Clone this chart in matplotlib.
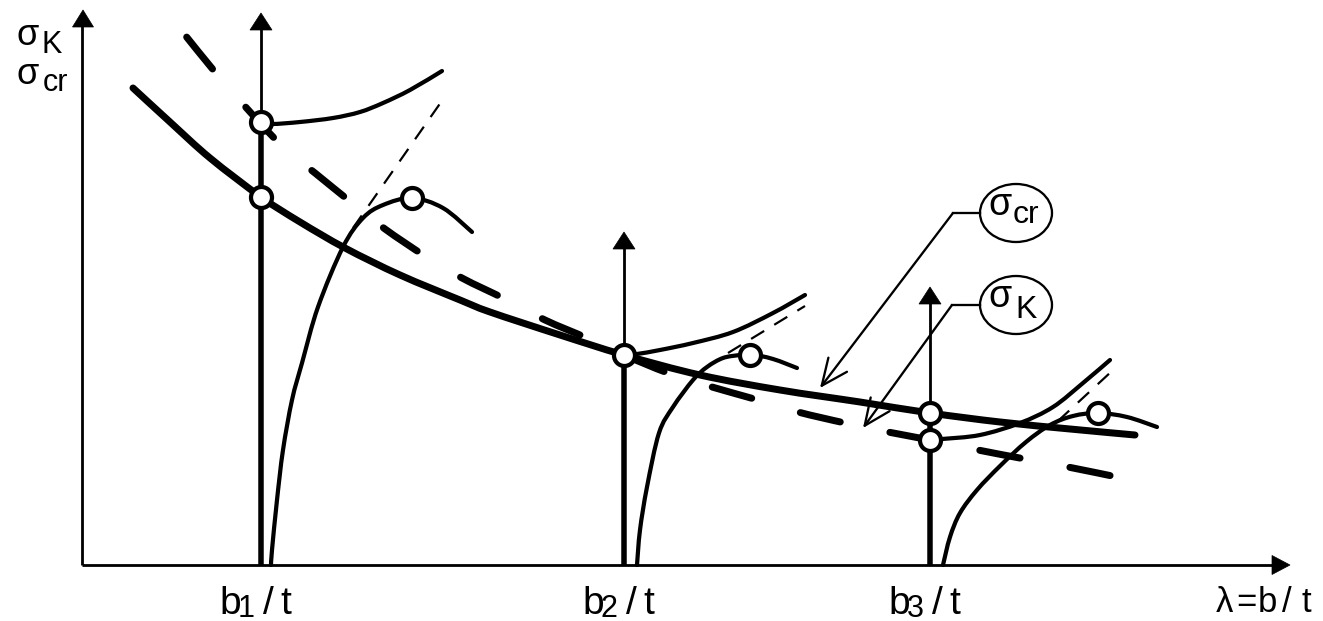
import matplotlib
matplotlib.use("Agg")
import numpy as np
import matplotlib.pyplot as plt
from matplotlib.patches import Ellipse, FancyArrowPatch, Polygon, PathPatch
from matplotlib.path import Path

plt.rcParams['font.family'] = ['Liberation Sans', 'DejaVu Sans']
plt.rcParams['lines.scale_dashes'] = False

PX = 0.72  # points per pixel at 100 dpi

# ---- diagram geometry (pixel space, y grows downward) ----
origin = (82, 565)
y_axis_top = 10
x_axis_end = 1290

# plate widths b_i/t on the abscissa
b_x = [261, 624, 930]
b_top = [13, 232, 287]
b_split = [122, 355, 413]
b_labels = ["1", "2", "3"]

# critical stress curve sigma_cr
sigma_cr_x = [133, 170, 210, 261, 300, 345, 400, 460, 490, 560, 624, 700, 780, 860, 930, 1000, 1070, 1135]
sigma_cr_y = [88, 122, 158, 197, 222, 248, 275, 300, 312, 335, 355, 375, 390, 402, 413, 422, 429, 435]

# buckling stress curve sigma_K
sigma_k_x = [185, 215, 242, 283, 315, 352, 385, 425, 462, 505, 545, 587, 624, 668, 712, 758, 798, 845, 888, 930, 978, 1025, 1068, 1117]
sigma_k_y = [35, 72, 103, 147, 173, 203, 229, 256, 278, 299, 320, 338, 355, 373, 387, 400, 412, 423, 432, 440, 450, 459, 467, 477]

# branches at b1/t
b1_post_x = [261, 272, 300, 333, 360, 383, 410, 442]
b1_post_y = [122, 124, 122, 118, 112, 103, 90, 71]
b1_rise_x = [271, 272, 277, 283, 292, 302, 318, 343, 363, 383, 412, 443, 472]
b1_rise_y = [565, 550, 500, 450, 400, 363, 307, 247, 218, 205, 198, 208, 232]
b1_tan_x = [353, 446]
b1_tan_y = [228, 95]

# branches at b2/t
b2_post_x = [624, 637, 660, 693, 733, 773, 805]
b2_post_y = [355, 354, 350, 343, 332, 313, 295]
b2_rise_x = [637, 640, 647, 659, 673, 693, 707, 723, 740, 750, 773, 797]
b2_rise_y = [565, 530, 487, 433, 407, 380, 367, 358, 355, 354, 359, 368]
b2_tan_x = [728, 805]
b2_tan_y = [353, 306]

# branches at b3/t
b3_post_x = [930, 942, 980, 1020, 1053, 1083, 1110]
b3_post_y = [440, 439, 435, 423, 407, 383, 360]
b3_rise_x = [943, 950, 960, 977, 1000, 1026, 1050, 1073, 1098, 1127, 1157]
b3_rise_y = [565, 537, 513, 490, 466, 442, 425, 416, 413, 417, 427]
b3_tan_x = [1058, 1112]
b3_tan_y = [421, 371]

# marked points
pts_x = [261, 261, 412, 624, 750, 930, 930, 1098]
pts_y = [122, 197, 198, 355, 355, 413, 440, 413]

# callouts: label subscript, ellipse centre, leader bend, arrow tip
call_sub = ["cr", "K"]
call_cx = [1016, 1016]
call_cy = [213, 305]
call_bend_x = [953, 952]
call_tip_x = [820, 863]
call_tip_y = [388, 428]

fig = plt.figure(figsize=(13.23, 6.21), dpi=100)
ax = fig.add_axes([0, 0, 1, 1])
ax.set_xlim(0, 1323)
ax.set_ylim(621, 0)
ax.axis('off')


def smooth_path(xs, ys):
    """Cubic Bezier path passing through every given point (Catmull-Rom tangents)."""
    p = np.column_stack([xs, ys]).astype(float)
    verts = [p[0]]
    codes = [Path.MOVETO]
    n = len(p)
    for i in range(n - 1):
        p0 = p[i - 1] if i > 0 else p[i]
        p1, p2 = p[i], p[i + 1]
        p3 = p[i + 2] if i + 2 < n else p[i + 1]
        verts += [p1 + (p2 - p0) / 6.0, p2 - (p3 - p1) / 6.0, p2]
        codes += [Path.CURVE4] * 3
    return Path(verts, codes)


def curve(xs, ys, lw, ls='solid', z=4):
    patch = PathPatch(smooth_path(xs, ys), fill=False, ec='black', lw=lw, linestyle=ls,
                      capstyle='round', joinstyle='round', zorder=z)
    ax.add_patch(patch)
    return patch


def arrow_head(tip, direction, length, half_w):
    tx, ty = tip
    if direction == 'up':
        pts = [(tx, ty), (tx - half_w, ty + length), (tx + half_w, ty + length)]
    else:
        pts = [(tx, ty), (tx - length, ty - half_w), (tx - length, ty + half_w)]
    ax.add_patch(Polygon(pts, closed=True, fc='black', ec='black', lw=0.5, zorder=6))


# coordinate axes
ax.plot([origin[0], origin[0]], [origin[1], y_axis_top + 15], color='black', lw=2.8 * PX, solid_capstyle='butt')
arrow_head((origin[0] + 1, y_axis_top), 'up', 17, 10.5)
ax.plot([origin[0], x_axis_end - 15], [origin[1], origin[1]], color='black', lw=2.8 * PX, solid_capstyle='butt')
arrow_head((x_axis_end, origin[1]), 'right', 18, 9.5)

# verticals at b_i/t
for bx, bt, bs in zip(b_x, b_top, b_split):
    ax.plot([bx, bx], [bs, bt + 15], color='black', lw=2.8 * PX, solid_capstyle='butt', zorder=3)
    arrow_head((bx, bt), 'up', 17, 11)
    ax.plot([bx, bx], [origin[1], bs], color='black', lw=5.5 * PX, solid_capstyle='butt', zorder=3)

# main curves: sigma_cr solid, sigma_K long dashes
curve(sigma_cr_x, sigma_cr_y, 7.0 * PX)
curve(sigma_k_x, sigma_k_y, 7.0 * PX, ls=(89.0 * PX, (41.0 * PX, 50.7 * PX)))

# thin branches
for xs, ys in [(b1_post_x, b1_post_y), (b1_rise_x, b1_rise_y),
               (b2_post_x, b2_post_y), (b2_rise_x, b2_rise_y),
               (b3_post_x, b3_post_y), (b3_rise_x, b3_rise_y)]:
    curve(xs, ys, 4.2 * PX)

for xs, ys in [(b1_tan_x, b1_tan_y), (b2_tan_x, b2_tan_y), (b3_tan_x, b3_tan_y)]:
    ln, = ax.plot(xs, ys, color='black', lw=2.2 * PX, solid_capstyle='butt', zorder=4)
    ln.set_dashes((11.0, 8.5))

# marked points
ax.plot(pts_x, pts_y, linestyle='none', marker='o', ms=21 * PX, mfc='white', mec='black',
        mew=4.2 * PX, zorder=7)

# callouts
for sub, cx, cy, bxn, tx, ty in zip(call_sub, call_cx, call_cy, call_bend_x, call_tip_x, call_tip_y):
    ax.add_patch(Ellipse((cx, cy), 72, 58, fc='white', ec='black', lw=2.3 * PX, zorder=5))
    ax.plot([cx - 36, bxn], [cy, cy], color='black', lw=2.3 * PX, zorder=5)
    ax.add_patch(FancyArrowPatch((bxn, cy), (tx, ty), arrowstyle='->,head_length=0.95,head_width=0.42',
                                 mutation_scale=20, lw=2.3 * PX, color='black',
                                 shrinkA=0, shrinkB=0, zorder=5))
    ax.text(cx - 16, cy + 2, "σ", fontsize=27, ha='center', va='baseline', zorder=6)
    ax.text(cx + 10, cy + 10 if sub == "cr" else cy + 13, sub, fontsize=23, ha='center',
            va='baseline', zorder=6)

# ordinate label
ax.text(28, 45, "σ", fontsize=26, ha='center', va='baseline')
ax.text(52, 53, "K", fontsize=22, ha='center', va='baseline')
ax.text(28, 84, "σ", fontsize=26, ha='center', va='baseline')
ax.text(55, 91, "cr", fontsize=22, ha='center', va='baseline')

# abscissa tick labels b_i/t
for bx, sub in zip(b_x, b_labels):
    ax.text(bx - 31, 614, "b", fontsize=28, ha='center', va='baseline')
    ax.text(bx - 15, 617, sub, fontsize=22, ha='center', va='baseline')
    ax.text(bx + 7, 614, "/", fontsize=28, ha='center', va='baseline')
    ax.text(bx + 25, 614, "t", fontsize=28, ha='center', va='baseline')

# abscissa name
lam_chars = ["λ", "=", "b", "/", "t"]
lam_cx = [1224, 1246, 1267, 1287, 1306]
for ch, cx in zip(lam_chars, lam_cx):
    ax.text(cx, 612, ch, fontsize=25, ha='center', va='baseline')

fig.savefig("out.png", dpi=100, facecolor='white')
